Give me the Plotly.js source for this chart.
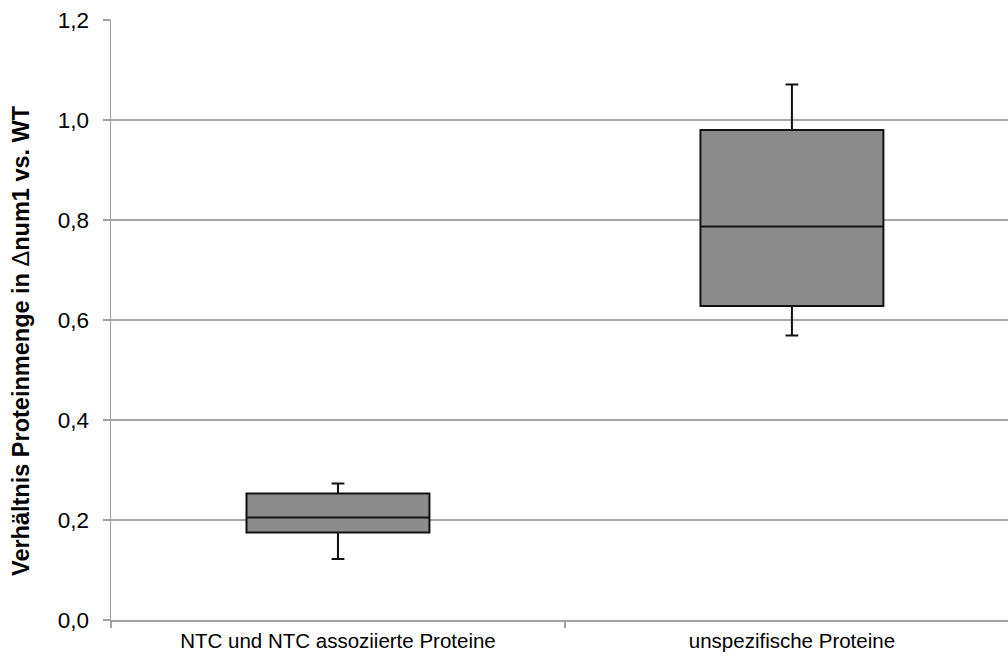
<!DOCTYPE html>
<html>
<head>
<meta charset="utf-8">
<script src="https://cdn.plot.ly/plotly-3.0.1.min.js"></script>
<style>html,body{margin:0;padding:0;background:#fff;}#chart{width:1008px;height:660px;}</style>
</head>
<body>
<div id="chart"></div>
<script>
const categories = ["NTC und NTC assoziierte Proteine", "unspezifische Proteine"];
const lowerWhisker = [0.122, 0.569];
const q1Values = [0.175, 0.628];
const medianValues = [0.205, 0.787];
const q3Values = [0.253, 0.980];
const upperWhisker = [0.273, 1.071];
const yTickVals = [0, 0.2, 0.4, 0.6, 0.8, 1.0, 1.2];
const yTitle = '<b>Verhältnis Proteinmenge in </b>Δ<b>num1 vs. WT</b>';

const trace = {
  type: 'box',
  x: categories,
  q1: q1Values,
  median: medianValues,
  q3: q3Values,
  lowerfence: lowerWhisker,
  upperfence: upperWhisker,
  fillcolor: '#8c8c8c',
  line: {color: '#111111', width: 2},
  width: 0.403,
  whiskerwidth: 0.07,
  boxpoints: false,
  hoverinfo: 'skip',
  showlegend: false
};

const layout = {
  width: 1008, height: 660,
  margin: {l: 111, r: 0, t: 20, b: 40},
  paper_bgcolor: '#ffffff', plot_bgcolor: '#ffffff',
  separators: ',.',
  font: {family: 'Liberation Sans, Arial, sans-serif', color: '#000000', size: 18},
  xaxis: {
    type: 'category',
    range: [-0.5, 1.476],
    showgrid: false,
    showline: true, linecolor: '#a0a0a0', linewidth: 1.5,
    ticks: 'outside', tickson: 'boundaries', ticklen: 6, tickcolor: '#a0a0a0', tickwidth: 1.5,
    ticklabelstandoff: 2,
    tickfont: {size: 20.5, family: 'Liberation Sans, Arial, sans-serif'},
    zeroline: false,
    fixedrange: true
  },
  yaxis: {
    range: [0, 1.2],
    tickvals: yTickVals,
    tickformat: '.1f',
    showgrid: true, gridcolor: '#a6a6a6', gridwidth: 1.5,
    showline: true, linecolor: '#a0a0a0', linewidth: 1.5,
    ticks: 'outside', ticklen: 7, tickcolor: '#a0a0a0', tickwidth: 1.5,
    ticklabelstandoff: 9,
    tickfont: {size: 22.5},
    zeroline: false,
    automargin: false,
    fixedrange: true
  },
  annotations: [{
    text: yTitle,
    textangle: -90,
    xref: 'paper', yref: 'paper',
    x: 0, y: 0.465,
    xanchor: 'center', yanchor: 'middle',
    xshift: -90,
    showarrow: false,
    font: {size: 23.5, color: '#000000'}
  }]
};

Plotly.newPlot('chart', [trace], layout, {staticPlot: true, displayModeBar: false});
</script>
</body>
</html>
